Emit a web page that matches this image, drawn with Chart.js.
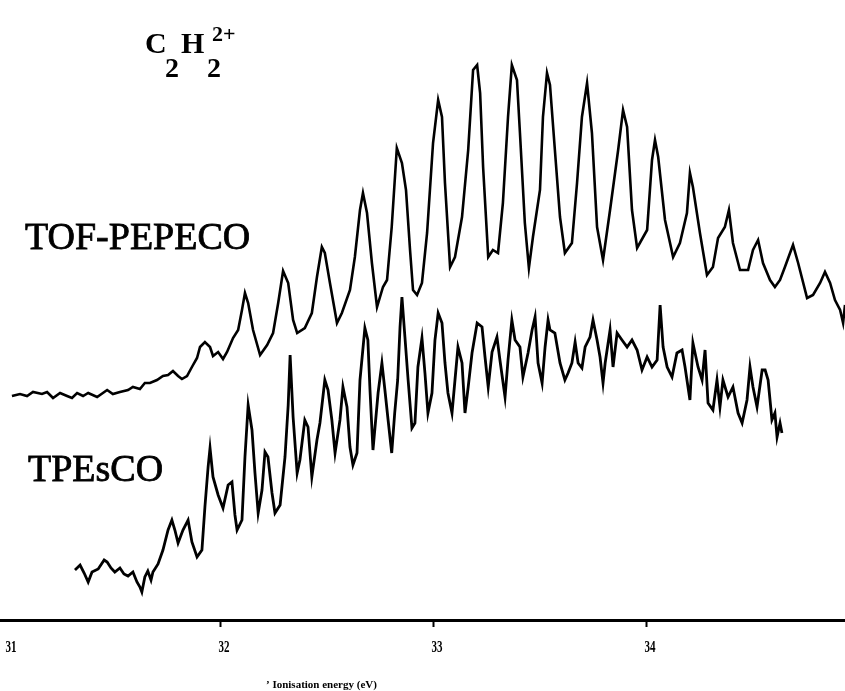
<!DOCTYPE html>
<html><head><meta charset="utf-8">
<script src="https://cdn.jsdelivr.net/npm/chart.js@4.4.0/dist/chart.umd.min.js"></script>
<style>html,body{margin:0;padding:0;background:#fff;overflow:hidden}canvas{display:block}</style>
</head><body>
<canvas id="c" width="845" height="691"></canvas>
<script>
// Ionisation energy axis (eV)
const tickValues = [31, 32, 33, 34, 35];
const markedTicks = [32, 33, 34];

// TOF-PEPECO spectrum (energy in eV, signal in arbitrary units)
const tofEnergy = [31.023,31.061,31.094,31.122,31.164,31.188,31.216,31.249,31.282,31.305,31.329,31.357,31.381,31.423,31.470,31.497,31.530,31.568,31.591,31.624,31.647,31.671,31.704,31.732,31.756,31.779,31.803,31.821,31.845,31.868,31.892,31.906,31.929,31.953,31.967,31.991,32.014,32.033,32.061,32.085,32.103,32.117,32.132,32.155,32.188,32.221,32.249,32.273,32.296,32.320,32.343,32.362,32.398,32.431,32.455,32.478,32.492,32.516,32.549,32.572,32.610,32.633,32.657,32.671,32.690,32.713,32.737,32.765,32.784,32.806,32.830,32.854,32.873,32.892,32.906,32.925,32.948,32.972,33.000,33.024,33.042,33.056,33.080,33.103,33.136,33.165,33.188,33.207,33.221,33.235,33.259,33.281,33.305,33.328,33.352,33.370,33.394,33.408,33.431,33.450,33.469,33.502,33.516,33.535,33.549,33.572,33.596,33.619,33.652,33.676,33.699,33.723,33.746,33.770,33.798,33.831,33.869,33.892,33.911,33.934,33.958,34.005,34.028,34.042,34.057,34.089,34.127,34.159,34.192,34.206,34.220,34.253,34.286,34.314,34.338,34.370,34.389,34.408,34.441,34.479,34.502,34.526,34.549,34.582,34.605,34.629,34.652,34.676,34.690,34.714,34.756,34.784,34.817,34.840,34.864,34.887,34.911,34.925,34.934];
const tofSignal = [224,226,224,228,226,228,222,227,224,222,227,224,227,223,230,226,228,230,233,231,237,237,240,244,245,249,244,241,244,253,262,273,278,273,264,268,261,268,282,290,310,327,317,290,265,275,287,317,349,337,300,287,292,307,343,373,367,337,297,307,330,363,410,427,407,357,313,333,340,393,472,457,430,370,330,325,337,387,477,520,503,437,353,363,403,470,550,555,527,453,363,370,367,417,503,555,540,487,397,352,383,430,503,547,535,470,403,367,377,437,503,537,487,393,360,410,470,510,493,410,372,390,460,480,463,400,363,377,407,447,433,387,345,353,382,393,410,377,350,350,370,380,357,340,333,340,353,367,375,357,322,325,337,348,337,320,310,297,315];

// TPEsCO spectrum (energy in eV, signal in arbitrary units)
const tpesEnergy = [31.319,31.343,31.362,31.381,31.399,31.428,31.456,31.470,31.488,31.506,31.530,31.549,31.568,31.591,31.610,31.624,31.633,31.647,31.661,31.676,31.685,31.709,31.732,31.756,31.774,31.788,31.803,31.826,31.850,31.868,31.892,31.915,31.929,31.944,31.953,31.967,31.991,32.014,32.038,32.056,32.070,32.080,32.103,32.117,32.132,32.150,32.164,32.179,32.197,32.211,32.225,32.244,32.258,32.282,32.305,32.320,32.329,32.343,32.362,32.375,32.398,32.413,32.431,32.455,32.469,32.492,32.507,32.525,32.540,32.563,32.577,32.596,32.610,32.624,32.643,32.657,32.680,32.694,32.704,32.718,32.742,32.760,32.774,32.789,32.806,32.820,32.834,32.845,32.854,32.868,32.883,32.901,32.915,32.929,32.948,32.962,32.976,32.995,33.009,33.024,33.042,33.056,33.070,33.089,33.103,33.117,33.136,33.150,33.165,33.183,33.207,33.230,33.244,33.259,33.277,33.300,33.314,33.338,33.352,33.370,33.385,33.408,33.422,33.446,33.465,33.479,33.493,33.512,33.526,33.540,33.549,33.572,33.596,33.619,33.634,33.652,33.667,33.681,33.699,33.714,33.737,33.751,33.770,33.784,33.798,33.808,33.831,33.845,33.864,33.887,33.911,33.934,33.958,33.981,34.005,34.028,34.052,34.066,34.080,34.099,34.122,34.145,34.169,34.183,34.206,34.220,34.244,34.263,34.277,34.291,34.314,34.333,34.347,34.361,34.385,34.408,34.432,34.451,34.474,34.488,34.502,34.521,34.545,34.559,34.573,34.591,34.605,34.615,34.629,34.638];
const tpesSignal = [50,55,47,38,48,51,60,58,52,48,52,46,44,48,38,33,28,43,49,40,48,56,70,90,100,90,77,90,100,78,63,70,113,153,172,143,125,112,135,138,105,90,100,163,215,190,147,107,130,168,163,127,107,115,163,215,265,203,147,160,200,193,143,180,197,240,230,200,167,200,233,213,173,155,167,240,292,280,230,170,227,257,230,200,167,207,240,293,323,283,240,192,197,253,282,247,207,227,280,307,297,257,227,207,240,273,257,207,233,267,297,293,263,233,268,283,260,223,260,300,280,273,243,267,290,303,257,237,273,300,290,287,257,240,247,257,278,257,252,273,283,300,280,263,237,257,290,253,287,280,273,280,270,250,263,253,260,315,273,253,243,267,270,253,220,277,253,240,270,217,210,240,213,240,223,233,207,197,220,253,233,213,250,250,240,200,207,183,197,187];

// Text annotations
const seriesLabels = ['TOF-PEPECO', 'TPEsCO'];
const axisTitle = '\u2019 Ionisation energy (eV)';

const textPlugin = {
  id: 'texts',
  afterDraw(chart) {
    const c = chart.ctx;
    const xs = chart.scales.x;
    c.save();
    c.fillStyle = '#000';
    c.strokeStyle = '#000';
    c.textBaseline = 'alphabetic';
    c.textAlign = 'left';
    c.font = "38px 'Liberation Serif'";
    c.lineWidth = 0.8;
    c.fillText(seriesLabels[0], 25, 249);
    c.strokeText(seriesLabels[0], 25, 249);
    c.fillText(seriesLabels[1], 28, 481);
    c.strokeText(seriesLabels[1], 28, 481);
    // C2H2 2+
    c.font = "bold 30px 'Liberation Serif'";
    c.fillText('C', 145, 53);
    c.fillText('H', 181, 53);
    c.font = "bold 28px 'Liberation Serif'";
    c.fillText('2', 165, 77);
    c.fillText('2', 207, 77);
    c.font = "bold 22px 'Liberation Serif'";
    c.fillText('2+', 212, 41);
    // tick labels, placed through the x scale
    c.font = "bold 13px 'Liberation Serif'";
    c.textAlign = 'center';
    c.textBaseline = 'middle';
    tickValues.forEach(v => {
      const px = xs.getPixelForValue(v);
      c.save();
      c.translate(px + 4, 648);
      c.scale(0.85, 1.25);
      c.fillText(String(v), 0, 0);
      c.restore();
    });
    // axis title
    c.textAlign = 'left';
    c.textBaseline = 'alphabetic';
    c.font = "bold 11px 'Liberation Serif'";
    c.fillText(axisTitle, 266, 688);
    c.restore();
  }
};

const tickCol = ctx => (ctx.tick && markedTicks.includes(ctx.tick.value)) ? '#000' : 'rgba(0,0,0,0)';

new Chart(document.getElementById('c'), {
  type: 'line',
  data: {
    datasets: [
      { label: seriesLabels[0], data: tofEnergy.map((x, i) => ({x, y: tofSignal[i]})),
        borderColor: '#000', borderWidth: 2.6, pointRadius: 0, tension: 0, fill: false },
      { label: seriesLabels[1], data: tpesEnergy.map((x, i) => ({x, y: tpesSignal[i]})),
        borderColor: '#000', borderWidth: 2.8, pointRadius: 0, tension: 0, fill: false }
    ]
  },
  options: {
    responsive: false, animation: false, devicePixelRatio: 1,
    layout: { padding: { left: 0, right: 0, top: 0, bottom: 64 } },
    plugins: { legend: { display: false }, tooltip: { enabled: false }, title: { display: false } },
    scales: {
      x: {
        type: 'linear', min: 30.967, max: 34.934,
        afterBuildTicks: s => { s.ticks = tickValues.map(v => ({ value: v })); },
        grid: { drawOnChartArea: false, drawTicks: true, tickLength: 7, tickWidth: 2, color: tickCol, tickColor: tickCol },
        border: { display: true, color: '#000', width: 3 },
        ticks: { display: false }
      },
      y: { display: false, min: 0, max: 620 }
    }
  },
  plugins: [textPlugin]
});
</script>
</body></html>
